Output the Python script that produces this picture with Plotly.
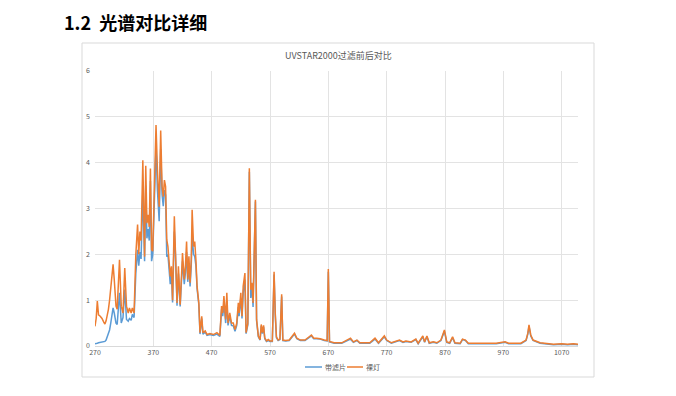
import plotly.graph_objects as go

wavelength = [270, 272, 274, 276, 279, 282, 285, 287, 289, 291, 293, 295, 297, 298, 301, 303, 306, 308, 312, 315,
              318, 321, 324, 327, 329, 332, 334, 337, 340, 343, 345, 347, 349, 352, 355, 357, 359, 361, 363, 365,
              367, 369, 372, 374.6, 377, 380, 382.6, 385, 387, 389, 391, 393, 395, 397, 399, 401, 403, 406, 408, 410.6,
              413, 416, 418, 420, 423, 425, 427, 429, 431, 433, 435, 436.5, 439, 441, 443, 445, 448, 450, 453, 455,
              459, 462, 467, 473, 479, 484, 487, 489, 491, 494, 496, 498, 501, 504, 507, 510, 513, 515.7, 517, 520,
              522, 524, 527, 529, 532, 534.6, 537, 539, 541, 545, 547, 550, 553, 555, 557, 559, 561, 564, 567, 570,
              574, 577, 579, 581, 584, 587, 590, 592, 597, 603, 612, 616, 622, 630, 641, 645, 650, 656, 663, 668,
              670, 672, 680, 693, 708, 713, 719, 724, 741, 750, 756, 766, 770, 778, 792, 798, 803, 812, 820, 824,
              832, 835, 839, 843, 850, 856, 863, 869, 873, 878, 883, 887, 896, 900, 905, 910, 930, 958, 973, 979,
              1000, 1009, 1012, 1014, 1017, 1021, 1033, 1040, 1056, 1070, 1080, 1090, 1098]

bare_lamp = [0.43, 0.6, 0.98, 0.68, 0.65, 0.6, 0.52, 0.48, 0.55, 0.65, 0.8, 1.0, 1.32, 1.36, 1.78, 1.45, 0.87, 0.8, 1.88, 0.87,
             0.72, 1.7, 0.87, 0.72, 0.83, 0.72, 0.83, 0.72, 2.0, 2.65, 2.0, 2.5, 2.3, 4.05, 1.95, 3.93, 2.68, 2.86, 2.6, 3.87,
             2.1, 2.07, 3.4, 4.82, 3.84, 3.04, 4.7, 3.48, 3.26, 3.62, 3.48, 2.32, 2.17, 1.74, 1.52, 1.74, 1.0, 2.83, 2.17, 0.94,
             1.74, 0.9, 1.45, 2.03, 1.45, 1.74, 2.28, 1.45, 1.96, 1.38, 1.88, 2.97, 2.17, 2.28, 1.88, 1.3, 0.94, 0.29, 0.65, 0.29,
             0.33, 0.25, 0.27, 0.25, 0.29, 0.23, 0.87, 0.72, 1.09, 0.58, 1.16, 0.5, 0.72, 0.5, 0.5, 0.36, 0.5, 0.94, 0.72, 1.16,
             0.65, 1.3, 1.59, 0.29, 0.5, 3.88, 1.23, 1.38, 0.94, 3.19, 0.58, 0.22, 0.14, 0.47, 0.29, 0.45, 0.18, 0.11, 0.14, 0.11,
             0.11, 1.62, 0.72, 0.2, 0.13, 0.15, 1.13, 0.13, 0.12, 0.13, 0.28, 0.17, 0.13, 0.13, 0.24, 0.17, 0.17, 0.16, 0.13, 0.12,
             1.68, 0.1, 0.07, 0.07, 0.17, 0.09, 0.13, 0.07, 0.07, 0.17, 0.07, 0.22, 0.13, 0.07, 0.13, 0.09, 0.11, 0.09, 0.15, 0.06,
             0.22, 0.09, 0.22, 0.07, 0.09, 0.07, 0.13, 0.35, 0.09, 0.07, 0.2, 0.07, 0.06, 0.15, 0.13, 0.06, 0.06, 0.06, 0.09, 0.06,
             0.06, 0.13, 0.28, 0.46, 0.24, 0.13, 0.07, 0.06, 0.04, 0.05, 0.04, 0.05, 0.04]

with_filter = [0.05, 0.05, 0.06, 0.07, 0.08, 0.09, 0.09, 0.1, 0.13, 0.22, 0.28, 0.35, 0.5, 0.6, 0.83, 0.72, 0.5, 0.47, 1.16, 0.5,
               0.62, 1.23, 0.58, 0.54, 0.6, 0.56, 0.69, 0.62, 1.59, 2.1, 1.75, 2.05, 1.9, 3.4, 1.85, 3.5, 2.35, 2.55, 2.3, 3.6,
               1.85, 2.0, 3.1, 4.35, 3.4, 2.72, 4.3, 3.3, 3.05, 3.4, 3.3, 1.95, 2.0, 1.55, 1.35, 1.6, 0.95, 2.5, 2.0, 0.88,
               1.58, 0.86, 1.35, 1.85, 1.35, 1.6, 2.05, 1.4, 1.8, 1.3, 1.75, 2.4, 2.0, 1.95, 1.75, 1.25, 0.9, 0.26, 0.6, 0.26,
               0.3, 0.23, 0.25, 0.23, 0.26, 0.21, 0.8, 0.65, 0.95, 0.5, 1.0, 0.45, 0.65, 0.45, 0.44, 0.32, 0.45, 0.85, 0.65, 1.05,
               0.6, 1.15, 1.45, 0.27, 0.46, 3.8, 1.05, 1.3, 0.85, 3.15, 0.55, 0.2, 0.13, 0.44, 0.27, 0.42, 0.16, 0.1, 0.12, 0.1,
               0.1, 1.56, 0.68, 0.18, 0.12, 0.14, 1.08, 0.12, 0.11, 0.12, 0.26, 0.16, 0.12, 0.12, 0.22, 0.16, 0.16, 0.15, 0.12, 0.11,
               1.62, 0.09, 0.06, 0.06, 0.15, 0.08, 0.12, 0.06, 0.06, 0.15, 0.06, 0.2, 0.12, 0.06, 0.12, 0.08, 0.1, 0.08, 0.14, 0.05,
               0.2, 0.08, 0.2, 0.06, 0.08, 0.06, 0.12, 0.32, 0.08, 0.06, 0.18, 0.06, 0.05, 0.14, 0.12, 0.05, 0.05, 0.05, 0.08, 0.05,
               0.05, 0.12, 0.26, 0.43, 0.22, 0.12, 0.06, 0.05, 0.03, 0.04, 0.03, 0.04, 0.03]

x_ticks = [270, 370, 470, 570, 670, 770, 870, 970, 1070]
y_ticks = [0, 1, 2, 3, 4, 5, 6]
series_names = ["带滤片", "裸灯"]
title_text = "UVSTAR2000过滤前后对比"
heading_text = "1.2  光谱对比详细"

BLUE = "#5B9BD5"
ORANGE = "#ED7D31"
GRID = "#e3e3e3"
TXT = "#595959"
FONT = "Noto Sans CJK SC"

# page offset (default body margin) and plot area in screen pixels
OFF = 8
L, R, T, B = 95, 578, 71, 346
W, H = 676, 396
pw, ph = R - L, B - T

def px(xp):
    return (xp - L) / pw

def py(yp):
    return (B - yp) / ph

fig = go.Figure()
fig.add_trace(go.Scatter(x=wavelength, y=with_filter, mode="lines", name=series_names[0],
                         line=dict(color=BLUE, width=1.5)))
fig.add_trace(go.Scatter(x=wavelength, y=bare_lamp, mode="lines", name=series_names[1],
                         line=dict(color=ORANGE, width=1.5)))

fig.update_layout(
    width=W, height=H,
    margin=dict(l=L - OFF, r=W - R + OFF, t=T - OFF, b=H - B + OFF),
    paper_bgcolor="white", plot_bgcolor="white",
    showlegend=False,
    font=dict(family=FONT, color=TXT, size=7),
    xaxis=dict(range=[270, 1098], tickvals=x_ticks, ticktext=[str(v) for v in x_ticks],
               showgrid=True, gridcolor=GRID, gridwidth=1, zeroline=False,
               showline=True, linecolor="#d9d9d9", linewidth=1, ticks="",
               tickfont=dict(size=7, color=TXT, family=FONT)),
    yaxis=dict(range=[0, 6], tickvals=y_ticks, ticktext=[str(v) for v in y_ticks],
               showgrid=True, gridcolor=GRID, gridwidth=1, zeroline=False,
               showline=False, ticks="", ticklabelstandoff=4,
               tickfont=dict(size=7, color=TXT, family=FONT)),
)

shapes = [
    dict(type="rect", xref="paper", yref="paper", x0=px(82), x1=px(594), y0=py(377), y1=py(43),
         line=dict(color="#d9d9d9", width=1), fillcolor="rgba(0,0,0,0)", layer="below"),
    dict(type="line", xref="paper", yref="paper", x0=px(305), x1=px(322), y0=py(367), y1=py(367),
         line=dict(color=BLUE, width=1.5)),
    dict(type="line", xref="paper", yref="paper", x0=px(347), x1=px(363), y0=py(367), y1=py(367),
         line=dict(color=ORANGE, width=1.5)),
]
fig.update_layout(shapes=shapes)

fig.add_annotation(xref="paper", yref="paper", x=px(338), y=py(55), text=title_text, showarrow=False,
                   xanchor="center", yanchor="middle", font=dict(size=9, color=TXT, family=FONT))
fig.add_annotation(xref="paper", yref="paper", x=px(63), y=py(OFF), text="<b>" + heading_text + "</b>",
                   showarrow=False, xanchor="left", yanchor="top", borderpad=0,
                   font=dict(size=18, color="#000000", family=FONT))
fig.add_annotation(xref="paper", yref="paper", x=px(323), y=py(367), text=series_names[0], showarrow=False,
                   xanchor="left", yanchor="middle", font=dict(size=7, color=TXT, family=FONT))
fig.add_annotation(xref="paper", yref="paper", x=px(364), y=py(367), text=series_names[1], showarrow=False,
                   xanchor="left", yanchor="middle", font=dict(size=7, color=TXT, family=FONT))

fig.write_html("out.html")
